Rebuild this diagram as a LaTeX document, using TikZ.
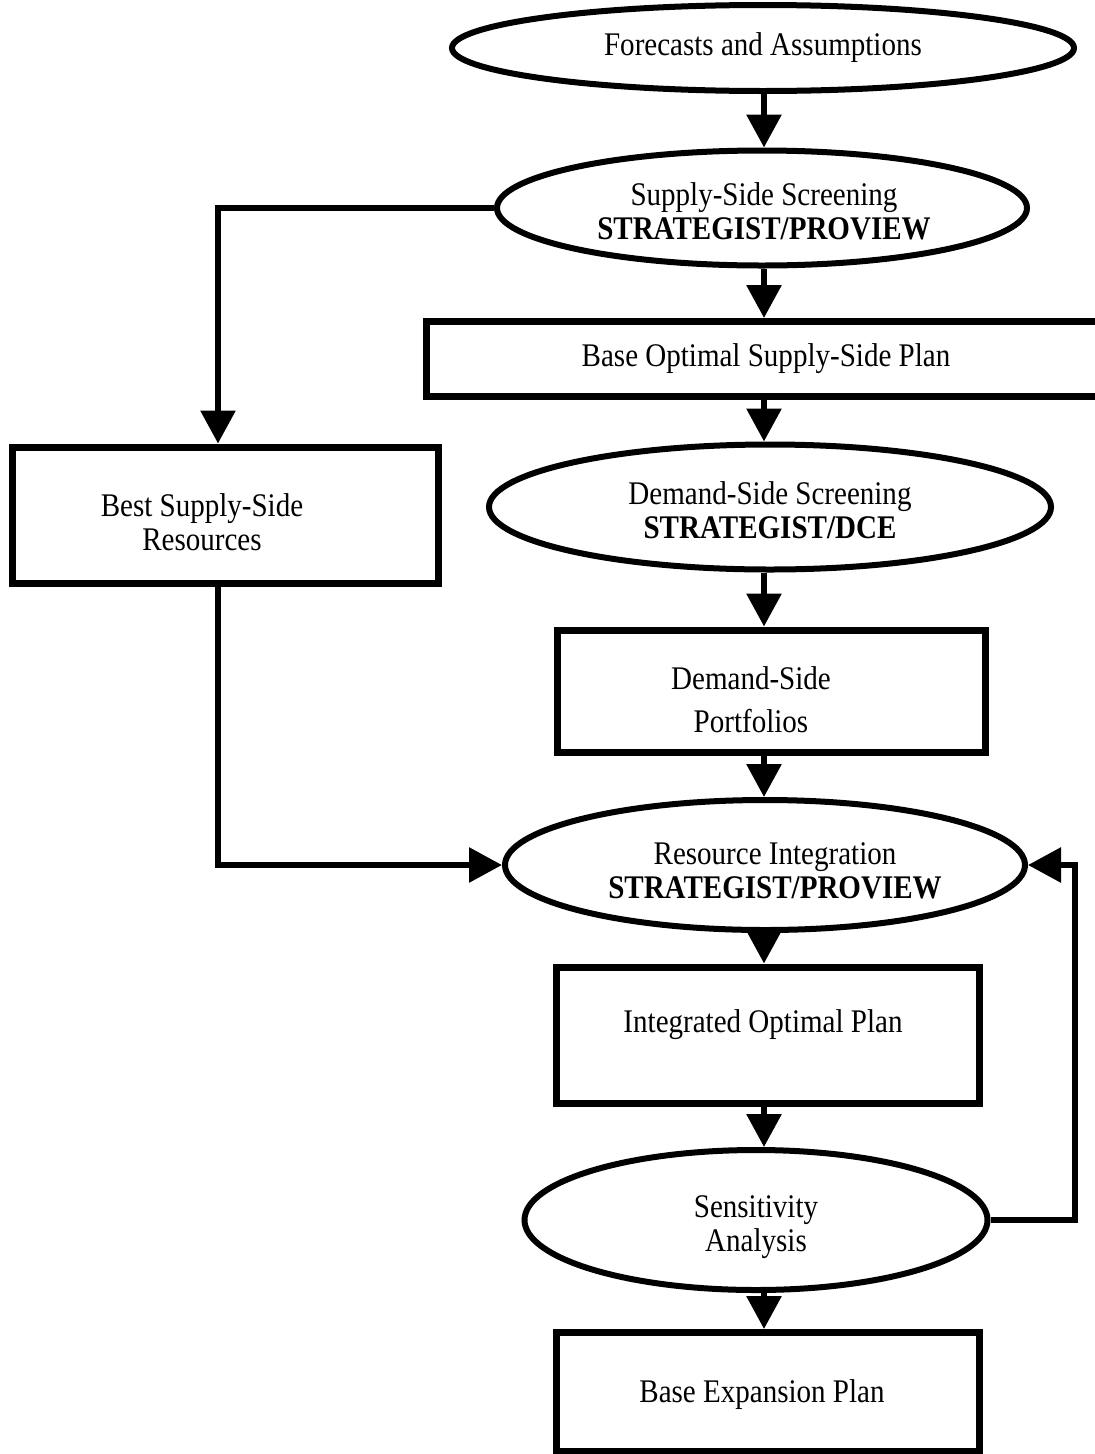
\documentclass[tikz,border=0pt]{standalone}
\usepackage{fontspec}
\setmainfont{Liberation Serif}[FakeStretch=0.88]
\usetikzlibrary{shapes.geometric,arrows.meta,calc}
\begin{document}
\begin{tikzpicture}[x=1pt,y=-1pt,
  every node/.style={font=\fontsize{33}{34}\selectfont, align=center, inner sep=0pt},
  ell/.style={draw, line width=6pt, ellipse},
  box/.style={draw, line width=7pt, rectangle},
  con/.style={line width=6pt},
  arr/.style={con, -{Triangle[width=34pt,length=33pt]}}]
\useasboundingbox (0,0) rectangle (1095,1454);
\clip (0,0) rectangle (1095,1454);
\fill[white] (0,0) rectangle (1095,1454);

\coordinate (colx) at (764,0);
\coordinate (fbx) at (1075,0);

\node[ell, minimum width=622pt, minimum height=86pt] (fa) at (763,48) {Forecasts and Assumptions};
\node[ell, minimum width=530pt, minimum height=115pt] (ss) at (762,208) {};
\node (sst) at (764,211) {Supply-Side Screening\\\textbf{STRATEGIST/PROVIEW}};
\node[box, minimum width=680pt, minimum height=75pt] (bos) at (766,359) {Base Optimal Supply-Side Plan};
\node[ell, minimum width=562pt, minimum height=125pt] (ds) at (770,507) {};
\node (dst) at (770,510) {Demand-Side Screening\\\textbf{STRATEGIST/DCE}};
\node[box, minimum width=426pt, minimum height=136pt] (bss) at (225,515) {};
\node (bsst) at (202,522) {Best Supply-Side\\Resources};
\node[box, minimum width=428pt, minimum height=122pt] (dsp) at (771,691) {};
\node (dspt) at (751,700) {Demand-Side\\[9pt]Portfolios};
\node[ell, minimum width=520pt, minimum height=130pt] (ri) at (765,865) {};
\node (rit) at (775,871) {Resource Integration\\\textbf{STRATEGIST/PROVIEW}};
\node[box, minimum width=423pt, minimum height=136pt] (iop) at (768,1035) {};
\node (iopt) at (763,1025) {Integrated Optimal Plan};
\node[ell, minimum width=463pt, minimum height=140pt] (sa) at (756,1220) {};
\node (sat) at (756,1227) {Sensitivity\\Analysis};
\node[box, minimum width=423pt, minimum height=119pt] (bep) at (768,1392) {};
\node (bept) at (762,1395) {Base Expansion Plan};

\draw[arr] (colx |- fa.south) -- (colx |- ss.north);
\draw[arr] (colx |- ss.south) -- (colx |- bos.north);
\draw[arr] (colx |- bos.south) -- (colx |- ds.north);
\draw[arr] (colx |- ds.south) -- (colx |- dsp.north);
\draw[arr] (colx |- dsp.south) -- (colx |- ri.north);
\draw[arr] (colx |- ri.south) -- (colx |- iop.north);
\draw[arr] (colx |- iop.south) -- (colx |- sa.north);
\draw[arr] (colx |- sa.south) -- (colx |- bep.north);

\draw[arr] (ss.west) -| ([xshift=-7pt]bss.north);
\draw[arr] ([xshift=-7pt]bss.south) |- (ri.west);
\draw[arr] (sa.east) -| (fbx |- ri.east) -- (ri.east);
\end{tikzpicture}
\end{document}
